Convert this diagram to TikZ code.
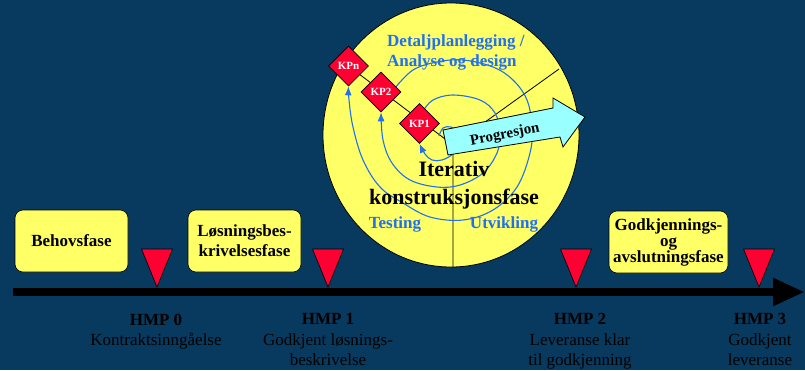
\documentclass[tikz,border=0pt]{standalone}
\usepackage{fontspec}
\usetikzlibrary{arrows.meta,shapes.geometric}
\setmainfont{Liberation Serif}
\definecolor{kpbakgrunn}{HTML}{073A5E}
\definecolor{kpgul}{HTML}{FFFF66}
\definecolor{kprod}{HTML}{FF0033}
\definecolor{kpblaa}{HTML}{2070F0}
\definecolor{kpcyan}{HTML}{99FFFF}
\pgfdeclarelayer{bunnlag}
\pgfdeclarelayer{spirallag}
\pgfsetlayers{bunnlag,spirallag,main}
\newcommand{\kplab}{\fontsize{17}{20.5}\selectfont}
\newcommand{\kpfase}{\fontsize{17}{20}\selectfont\bfseries}
\newcommand{\kptett}{\fontsize{17}{16}\selectfont\bfseries}
\newcommand{\kpbig}{\fontsize{22}{27.5}\selectfont\bfseries}
\newcommand{\kpprog}{\fontsize{15}{17}\selectfont\bfseries}
\newcommand{\kpsmall}{\fontsize{11}{12}\selectfont\bfseries}
\newcommand{\kpmerke}[1]{%
  \filldraw[kprod,draw=black,line width=0.6] (#1-15.5,249) -- (#1+15.5,249) -- (#1,287) -- cycle;
}
\tikzset{
  fase/.style={draw=black,fill=kpgul,rounded corners=8pt,line width=0.6,
    minimum height=62pt,inner sep=0pt,align=center,font=\kpfase},
  hmp/.style={anchor=north,align=center,inner sep=0pt,font=\kplab},
  kp/.style={diamond,draw=black,fill=kprod,line width=0.6,minimum size=40pt,
    inner sep=0pt,text=white,font=\kpsmall},
  blaatekst/.style={text=kpblaa,inner sep=0pt,font=\kpfase},
  spir/.style={kpblaa,line width=1.1,-{Latex[length=9pt,width=7pt]}},
}

\begin{document}
\begin{tikzpicture}[x=1pt,y=-1pt]
\useasboundingbox (0,0) rectangle (805,370);
\begin{pgfonlayer}{bunnlag}
\fill[kpbakgrunn] (0,0) rectangle (805,370);
\filldraw[kpgul,draw=black,line width=0.8] (451,135) ellipse [x radius=128,y radius=132];
\end{pgfonlayer}
% tidslinje
\draw[line width=8,-{Triangle[length=32pt,width=26pt]}] (13,292) -- (805,292);
% faser
\node[fase,minimum width=113pt] (behov) at (71.5,241) {Behovsfase};
\node[fase,minimum width=113pt] (losning) at (244.5,241) {Løsningsbes-\\krivelsesfase};
\node[fase,minimum width=119pt,font=\kptett] (godkj) at (668.5,242) {Godkjennings-\\og\\avslutningsfase};
% milepaeler
\kpmerke{157}
\kpmerke{328}
\kpmerke{576}
\kpmerke{759}
\node[hmp] (hmp0) at (156,313.5) {\textbf{HMP 0}\\Kontraktsinngåelse};
\node[hmp] (hmp1) at (328,313.5) {\textbf{HMP 1}\\Godkjent løsnings-\\beskrivelse};
\node[hmp] (hmp2) at (580,313.5) {\textbf{HMP 2}\\Leveranse klar\\til godkjenning};
\node[hmp] (hmp3) at (760,313.5) {\textbf{HMP 3}\\Godkjent\\leveranse};
% iterativ sirkel
\node[blaatekst,anchor=north west,align=left] (detalj) at (387,34.5) {Detaljplanlegging /\\Analyse og design};
\node[blaatekst,anchor=base] (testing) at (395,228) {Testing};
\node[blaatekst,anchor=base] (utvikling) at (504,228) {Utvikling};
\node[kp] (kpn) at (348.5,66) {KPn};
\node[kp] (kp2) at (381,92) {KP2};
\node[kp] (kp1) at (419.5,123.5) {KP1};
\coordinate (nav) at (453,145);
\coordinate (bunn) at (453,267);
\coordinate (skraa) at (559,69);
\begin{pgfonlayer}{spirallag}
\draw[line width=0.8] (bunn) -- (nav) -- (skraa);
\draw[line width=0.8] (nav) -- (kpn.center);
% spiral
\draw[spir] plot[smooth,tension=0.6] coordinates {(439,136) (443,128) (451,127) (458,133) (460,144) (453,154) (442,160) (432,160) (425,154) (kp1.south)};
\draw[spir] plot[smooth,tension=0.6] coordinates {(423,111) (433,100) (453,95) (480,100) (495,113) (500,133) (497,153) (483,173) (460,185) (437,187) (410,180) (392,163) (383,140) (kp2.south)};
\draw[spir] plot[smooth,tension=0.6] coordinates {(395,88) (413,70) (437,62) (463,60) (493,67) (513,80) (527,100) (532,127) (530,153) (517,187) (493,210) (463,220) (430,217) (403,203) (380,187) (363,160) (353,127) (349,100) (kpn.south)};
\end{pgfonlayer}
% progresjon
\filldraw[kpcyan,draw=black,line width=0.8] (443,130) -- (553,108) -- (553,98) -- (585,117) -- (563,147) -- (560,137) -- (448,155) -- cycle;
\node[font=\kpprog,rotate=11,inner sep=0pt] (progresjon) at (505,135) {Progresjon};
\node[font=\kpbig,align=center,inner sep=0pt,anchor=north] (iterativ) at (454,161.4) {Iterativ\\konstruksjonsfase};
\end{tikzpicture}
\end{document}
